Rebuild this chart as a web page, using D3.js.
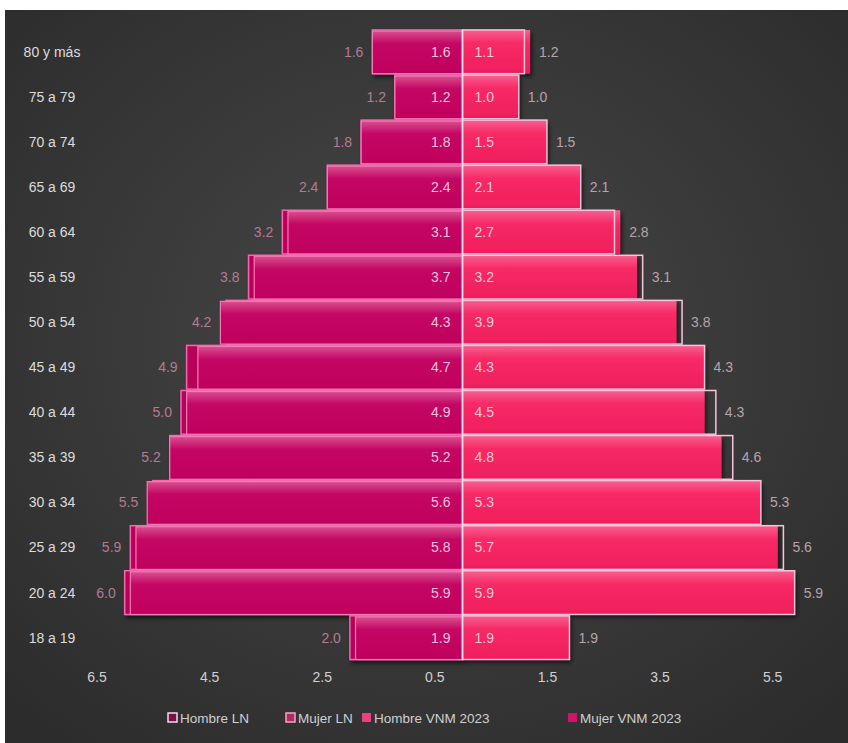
<!DOCTYPE html>
<html>
<head>
<meta charset="utf-8">
<script src="https://cdn.jsdelivr.net/npm/d3@7"></script>
<style>
  html, body { margin: 0; padding: 0; background: #ffffff; }
  svg { display: block; }
</style>
</head>
<body>
<div id="chart"></div>
<script>
// age groups, top to bottom
const categories = ["80 y más", "75 a 79", "70 a 74", "65 a 69", "60 a 64", "55 a 59", "50 a 54",
  "45 a 49", "40 a 44", "35 a 39", "30 a 34", "25 a 29", "20 a 24", "18 a 19"];

// percentages
const hombreLN  = [1.6, 1.2, 1.8, 2.4, 3.2, 3.8, 4.2, 4.9, 5.0, 5.2, 5.5, 5.9, 6.0, 2.0];
const hombreVNM = [1.6, 1.2, 1.8, 2.4, 3.1, 3.7, 4.3, 4.7, 4.9, 5.2, 5.6, 5.8, 5.9, 1.9];
const mujerLN   = [1.1, 1.0, 1.5, 2.1, 2.7, 3.2, 3.9, 4.3, 4.5, 4.8, 5.3, 5.7, 5.9, 1.9];
const mujerVNM  = [1.2, 1.0, 1.5, 2.1, 2.8, 3.1, 3.8, 4.3, 4.3, 4.6, 5.3, 5.6, 5.9, 1.9];

const tickValues = [-6.5, -4.5, -2.5, -0.5, 1.5, 3.5, 5.5];
const legendLabels = ["Hombre LN", "Mujer LN", "Hombre VNM 2023", "Mujer VNM 2023"];

const W = 848, H = 743;
const fontFam = "'Liberation Sans', Arial, sans-serif";

const svg = d3.select("#chart").append("svg")
    .attr("width", W)
    .attr("height", H);

const defs = svg.append("defs");

const bg = defs.append("radialGradient").attr("id", "bg")
    .attr("cx", "50%").attr("cy", "45%").attr("r", "70%");
bg.append("stop").attr("offset", "0%").attr("stop-color", "#484848");
bg.append("stop").attr("offset", "100%").attr("stop-color", "#2c2c2c");

const gH = defs.append("linearGradient").attr("id", "gH")
    .attr("x1", 0).attr("y1", 0).attr("x2", 0).attr("y2", 1);
gH.append("stop").attr("offset", "0%").attr("stop-color", "#d8508e");
gH.append("stop").attr("offset", "30%").attr("stop-color", "#c40664");
gH.append("stop").attr("offset", "100%").attr("stop-color", "#c0005c");

const gM = defs.append("linearGradient").attr("id", "gM")
    .attr("x1", 0).attr("y1", 0).attr("x2", 0).attr("y2", 1);
gM.append("stop").attr("offset", "0%").attr("stop-color", "#f76090");
gM.append("stop").attr("offset", "30%").attr("stop-color", "#f72a66");
gM.append("stop").attr("offset", "100%").attr("stop-color", "#ef1e5c");

const shadow = defs.append("filter").attr("id", "shadow")
    .attr("x", "-10%").attr("y", "-20%").attr("width", "130%").attr("height", "160%");
shadow.append("feDropShadow").attr("dx", 2).attr("dy", 3)
    .attr("stdDeviation", 2).attr("flood-color", "#000").attr("flood-opacity", 0.6);

// white frame + dark panel
svg.append("rect").attr("x", 5).attr("y", 10).attr("width", W - 5).attr("height", H - 10)
    .attr("fill", "url(#bg)");

const cx = 462.5, unit = 56.3;
const x = d3.scaleLinear().domain([-7, 7]).range([cx - 7 * unit, cx + 7 * unit]);
const y = d3.scaleBand().domain(categories).range([29.5, 660]).paddingInner(0.03).paddingOuter(0.01);

const rows = categories.map((c, i) => ({
  cat: c, hLN: hombreLN[i], hV: hombreVNM[i], mLN: mujerLN[i], mV: mujerVNM[i]
}));

// category labels
svg.append("g").selectAll("text").data(categories).join("text")
    .attr("x", 52).attr("y", d => y(d) + y.bandwidth() / 2)
    .attr("text-anchor", "middle").attr("dy", "0.35em")
    .attr("font-family", fontFam).attr("font-size", 14)
    .attr("fill", "#dcdcdc")
    .text(d => d);

const bars = svg.append("g").attr("filter", "url(#shadow)");

// Hombre LN (filled, pink edge)
bars.selectAll(".hln").data(rows).join("rect").attr("class", "hln")
    .attr("x", d => x(-d.hLN)).attr("y", d => y(d.cat))
    .attr("width", d => x(0) - x(-d.hLN)).attr("height", y.bandwidth())
    .attr("fill", "#b80058").attr("stroke", "#f06aae").attr("stroke-width", 1.5);

// Mujer VNM (filled)
bars.selectAll(".mv").data(rows).join("rect").attr("class", "mv")
    .attr("x", x(0)).attr("y", d => y(d.cat))
    .attr("width", d => x(d.mV) - x(0)).attr("height", y.bandwidth())
    .attr("fill", "url(#gM)");

const over = svg.append("g");

// Hombre VNM on top
over.selectAll(".hv").data(rows).join("rect").attr("class", "hv")
    .attr("x", d => x(-d.hV)).attr("y", d => y(d.cat) + 1)
    .attr("width", d => x(0) - x(-d.hV)).attr("height", y.bandwidth() - 1)
    .attr("fill", "url(#gH)").attr("stroke", "#f47ab8").attr("stroke-width", 1.2);

// Mujer LN outline
over.selectAll(".mln").data(rows).join("rect").attr("class", "mln")
    .attr("x", x(0)).attr("y", d => y(d.cat))
    .attr("width", d => x(d.mLN) - x(0)).attr("height", y.bandwidth())
    .attr("fill", "none").attr("stroke", "#f8c4da").attr("stroke-width", 1.5);

// center divider
over.append("line")
    .attr("x1", x(0)).attr("x2", x(0))
    .attr("y1", y(categories[0])).attr("y2", y(categories[categories.length - 1]) + y.bandwidth())
    .attr("stroke", "#fbe0ec").attr("stroke-width", 1.5);

const labels = svg.append("g")
    .attr("font-family", fontFam).attr("font-size", 14);

// inside labels
labels.selectAll(".ih").data(rows).join("text")
    .attr("x", x(0) - 12).attr("y", d => y(d.cat) + y.bandwidth() / 2)
    .attr("dy", "0.35em").attr("text-anchor", "end")
    .attr("fill", "#f2c0dc").text(d => d.hV.toFixed(1));
labels.selectAll(".im").data(rows).join("text")
    .attr("x", x(0) + 12).attr("y", d => y(d.cat) + y.bandwidth() / 2)
    .attr("dy", "0.35em").attr("text-anchor", "start")
    .attr("fill", "#f9c6d6").text(d => d.mLN.toFixed(1));

// outside labels
labels.selectAll(".oh").data(rows).join("text")
    .attr("x", d => x(-Math.max(d.hLN, d.hV)) - 9).attr("y", d => y(d.cat) + y.bandwidth() / 2)
    .attr("dy", "0.35em").attr("text-anchor", "end")
    .attr("fill", "#b47a96").text(d => d.hLN.toFixed(1));
labels.selectAll(".om").data(rows).join("text")
    .attr("x", d => x(Math.max(d.mLN, d.mV)) + 9).attr("y", d => y(d.cat) + y.bandwidth() / 2)
    .attr("dy", "0.35em").attr("text-anchor", "start")
    .attr("fill", "#b8a2ac").text(d => d.mV.toFixed(1));

// x axis
const axis = svg.append("g")
    .attr("transform", "translate(0,672)")
    .call(d3.axisBottom(x).tickValues(tickValues).tickSize(0).tickPadding(0)
      .tickFormat(d => Math.abs(d).toFixed(1)));
axis.select(".domain").remove();
axis.selectAll("text")
    .attr("font-family", fontFam).attr("font-size", 14)
    .attr("fill", "#d0d0d0");

// legend
const legendX = [168, 286, 362, 568];
const swatchFill = ["#7a1044", "#b0285e", "#ec3f7c", "#d3106a"];
const swatchStroke = ["#f5d8e6", "#f0a8c8", "none", "none"];
const leg = svg.append("g").attr("font-family", fontFam).attr("font-size", 13.5);
const li = leg.selectAll("g").data(legendLabels).join("g")
    .attr("transform", (d, i) => `translate(${legendX[i]},718)`);
li.append("rect").attr("x", 0).attr("y", -5).attr("width", 9).attr("height", 9)
    .attr("fill", (d, i) => swatchFill[i])
    .attr("stroke", (d, i) => swatchStroke[i]).attr("stroke-width", 1.5);
li.append("text").attr("x", 12).attr("dy", "0.35em")
    .attr("fill", "#cfcfcf")
    .text(d => d);
</script>
</body>
</html>
